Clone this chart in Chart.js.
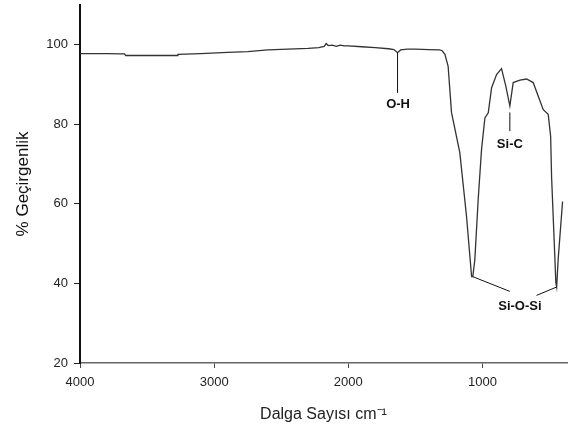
<!DOCTYPE html>
<html>
<head>
<meta charset="utf-8">
<script src="https://cdn.jsdelivr.net/npm/chart.js@4"></script>
<style>
  html, body { margin: 0; padding: 0; background: #fff; }
  #wrap { width: 568px; height: 430px; }
</style>
</head>
<body>
<div id="wrap"><canvas id="ftir"></canvas></div>
<script>
// Spectrum: wavenumber (cm-1) and % transmittance
const wavenumbers = [4000, 3900, 3800, 3700, 3668, 3660, 3500, 3300, 3275, 3270, 3100, 2900, 2750, 2600, 2450,
  2300, 2220, 2180, 2165, 2150, 2120, 2090, 2060, 2030, 2000, 1900, 1800, 1700, 1660, 1633, 1610, 1560, 1500,
  1400, 1320, 1300, 1280, 1256, 1231, 1169, 1119, 1081, 1072, 1057, 1032, 1007, 982, 957, 932, 895, 858, 826,
  796, 771, 721, 671, 622, 585, 547, 510, 492, 485, 473, 453, 447, 436, 403];
const transmittance = [97.8, 97.8, 97.8, 97.7, 97.7, 97.3, 97.3, 97.3, 97.3, 97.6, 97.8, 98.1, 98.3, 98.7, 98.9,
  99.1, 99.3, 99.6, 100.3, 99.8, 99.9, 99.6, 99.9, 99.7, 99.7, 99.5, 99.3, 99.0, 98.8, 98.0, 98.7, 98.9, 98.9,
  98.8, 98.7, 98.5, 97.6, 94.6, 83.0, 72.9, 56.9, 41.7, 41.7, 46.0, 61.1, 73.7, 81.6, 82.9, 89.2, 92.5, 94.0, 89.6,
  84.6, 90.5, 91.1, 91.4, 90.5, 87.1, 83.7, 82.5, 77.0, 66.9, 56.9, 40.1, 39.1, 46.0, 60.6];

const xTicks = [4000, 3000, 2000, 1000];
const yTicks = [20, 40, 60, 80, 100];

// Peak labels, in data units: leader line(s) and text position
const peakLabels = [
  { text: 'O-H', tx: 1629, ty: 85.0, lines: [[1633, 98.0, 1633, 87.9]] },
  { text: 'Si-C', tx: 796, ty: 74.9, lines: [[796, 83.0, 796, 78.3]] },
  { text: 'Si-O-Si', tx: 721, ty: 34.2, lines: [[1072, 41.7, 796, 38.0], [447, 39.1, 597, 37.0]] }
];

const FONT = "'Liberation Sans', Arial, sans-serif";

const peakLabelPlugin = {
  id: 'peakLabels',
  afterDatasetsDraw(chart) {
    const { ctx, scales: { x, y } } = chart;
    ctx.save();
    ctx.strokeStyle = '#111';
    ctx.lineWidth = 1;
    peakLabels.forEach(p => {
      p.lines.forEach(l => {
        ctx.beginPath();
        ctx.moveTo(x.getPixelForValue(l[0]), y.getPixelForValue(l[1]));
        ctx.lineTo(x.getPixelForValue(l[2]), y.getPixelForValue(l[3]));
        ctx.stroke();
      });
      ctx.fillStyle = '#111';
      ctx.font = 'bold 13px ' + FONT;
      ctx.textAlign = 'center';
      ctx.textBaseline = 'middle';
      ctx.fillText(p.text, x.getPixelForValue(p.tx), y.getPixelForValue(p.ty));
    });
    ctx.restore();
  }
};

new Chart(document.getElementById('ftir'), {
  type: 'line',
  data: {
    datasets: [{
      data: wavenumbers.map((w, i) => ({ x: w, y: transmittance[i] })),
      borderColor: '#333',
      borderWidth: 1.3,
      pointRadius: 0,
      fill: false,
      tension: 0
    }]
  },
  options: {
    responsive: true,
    maintainAspectRatio: false,
    animation: false,
    layout: { padding: { top: 5, right: 1, left: 0, bottom: 0 } },
    plugins: { legend: { display: false }, tooltip: { enabled: false } },
    scales: {
      x: {
        type: 'linear',
        reverse: true,
        min: 370,
        max: 4000,
        afterBuildTicks: axis => { axis.ticks = xTicks.map(v => ({ value: v })); },
        afterFit: axis => { axis.height = 67; axis.paddingLeft = 0; axis.paddingRight = 0; },
        grid: { drawOnChartArea: false, drawTicks: true, tickLength: 5, tickColor: '#444' },
        border: { display: true, color: '#666', width: 1.5 },
        ticks: {
          color: '#222', padding: 7, maxRotation: 0,
          font: { family: FONT, size: 13 },
          callback: v => String(v)
        },
        title: {
          display: true,
          text: 'Dalga Sayısı cm⁻¹',
          color: '#222',
          padding: { top: 0, bottom: 6 },
          font: { family: FONT, size: 16 }
        }
      },
      y: {
        min: 20,
        max: 110,
        afterBuildTicks: axis => { axis.ticks = yTicks.map(v => ({ value: v })); },
        afterFit: axis => { axis.width = 80; axis.paddingTop = 0; axis.paddingBottom = 0; },
        grid: { drawOnChartArea: false, drawTicks: true, tickLength: 6, tickColor: '#222' },
        border: { display: true, color: '#111', width: 2 },
        ticks: {
          color: '#222', padding: 6,
          font: { family: FONT, size: 13 },
          callback: v => String(v)
        },
        title: {
          display: true,
          text: '% Geçirgenlik',
          color: '#111',
          padding: { top: 13, bottom: 0 },
          font: { family: FONT, size: 17 }
        }
      }
    }
  },
  plugins: [peakLabelPlugin]
});
</script>
</body>
</html>
